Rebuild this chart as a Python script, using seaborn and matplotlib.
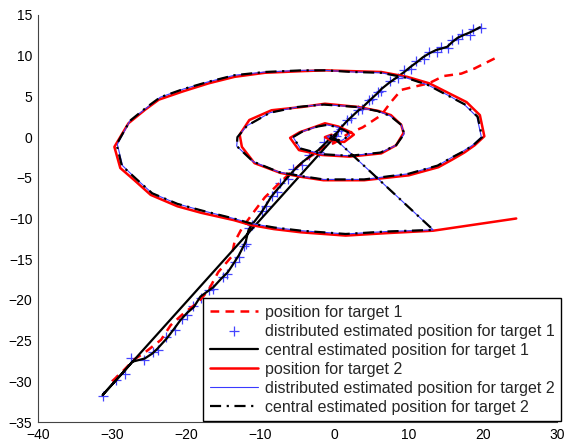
import matplotlib
matplotlib.use("Agg")
import matplotlib.pyplot as plt
import seaborn as sns

# target 1 - true position (red dashed)
t1_x = [-30.0, -28.5, -27.0, -25.5, -23.4, -22.1, -20.3, -18.4, -17.0, -15.7, -13.9, -13.5,
        -12.5, -10.9, -9.4, -7.5, -5.5, -3.6, -1.6, 0.0, 1.8, 3.8, 6.3, 7.6, 9.0, 10.8, 12.7,
        14.7, 17.1, 18.8, 21.9]
t1_y = [-30.0, -28.7, -27.3, -26.4, -24.9, -23.1, -21.6, -20.3, -18.8, -16.6, -14.7, -12.9,
        -11.2, -9.2, -7.4, -5.7, -4.0, -2.6, -1.3, -0.7, 0.4, 1.2, 2.7, 4.3, 5.8, 6.2, 6.6,
        7.5, 7.8, 8.4, 9.8]

# target 1 - central estimate (black solid), starts from the origin guess
c1_x = [0.3, -31.3, -29.6, -28.5, -27.3, -25.6, -24.6, -23.9, -22.6, -21.6, -20.8, -19.9,
        -19.0, -18.1, -17.2, -16.3, -15.3, -14.4, -13.6, -12.9, -12.4, -12.0, -11.6, -11.0,
        -9.9, -9.2, -8.6, -7.9, -7.2, -6.4, -5.5, -4.5, -3.4, -2.2, -1.3, -0.4, 0.4, 0.9,
        1.6, 2.3, 3.0, 3.8, 4.5, 5.2, 5.8, 6.3, 7.4, 8.5, 9.4, 10.2, 11.1, 11.9, 12.8, 13.7,
        14.5, 15.2, 15.9, 16.6, 17.3, 18.1, 18.8, 19.6]
c1_y = [0.3, -31.7, -30.0, -28.9, -27.6, -27.2, -26.6, -26.0, -24.7, -23.5, -22.5, -21.6,
        -20.9, -19.6, -19.0, -18.4, -17.4, -16.6, -15.5, -14.5, -13.6, -12.9, -11.4, -10.6,
        -9.3, -8.3, -7.4, -6.6, -5.9, -5.0, -4.1, -3.2, -2.4, -1.6, -0.8, 0.0, 0.6, 1.2,
        1.9, 2.5, 3.1, 3.7, 4.3, 4.9, 5.4, 5.9, 6.7, 7.4, 8.0, 8.6, 9.2, 9.8, 10.3, 10.7,
        10.9, 11.1, 11.7, 12.2, 12.5, 12.8, 13.1, 13.5]

# target 1 - distributed estimate (blue +)
d1_x = [0.2, -31.3, -29.5, -28.3, -27.5, -25.7, -24.5, -23.8, -22.7, -21.5, -20.6, -19.9,
        -19.1, -18.0, -17.0, -16.4, -15.1, -14.5, -13.4, -12.9, -12.2, -12.0, -11.5, -11.1,
        -9.8, -9.3, -8.5, -7.8, -7.3, -6.3, -5.6, -4.4, -3.5, -2.1, -1.4, -0.3, 0.5, 0.8,
        1.7, 2.2, 3.1, 3.7, 4.6, 5.1, 5.9, 6.2, 7.5, 8.6, 9.3, 10.3, 11.0, 12.0, 12.7, 13.8,
        14.4, 15.3, 15.8, 16.7, 17.2, 18.2, 18.7, 19.7]
d1_y = [0.1, -31.8, -29.8, -29.1, -27.1, -27.4, -26.4, -26.2, -24.5, -23.7, -22.3, -21.8,
        -20.7, -19.8, -18.8, -18.6, -17.2, -16.8, -15.3, -14.7, -13.4, -13.1, -11.2, -10.8,
        -9.1, -8.5, -7.2, -6.8, -5.7, -5.2, -3.9, -3.4, -2.2, -1.8, -0.6, -0.2, 0.8, 1.0,
        2.1, 2.3, 3.3, 3.5, 4.5, 4.7, 5.6, 5.7, 6.9, 7.2, 8.2, 8.4, 9.4, 9.6, 10.5, 10.5,
        11.1, 10.9, 11.9, 12.0, 12.7, 12.6, 13.3, 13.4]

# target 2 - true position (red solid spiral)
t2_x = [24.5, 13.3, 7.0, 1.5, -4.5, -8.2, -11.3, -13.6, -18.0, -21.2, -24.8, -27.0, -28.9,
        -29.7, -27.8, -25.5, -23.7, -20.5, -17.0, -13.5, -9.4, -4.4, -1.3, 2.5, 6.3, 9.8,
        12.8, 15.4, 17.8, 19.6, 20.2, 18.9, 17.5, 15.8, 14.0, 10.0, 4.0, -1.5, -4.4, -7.3,
        -10.8, -12.5, -12.8, -11.5, -8.5, -4.4, -1.3, 3.2, 6.0, 7.6, 9.0, 9.3, 8.3, 6.3, 2.0,
        -1.7, -4.8, -6.0, -4.7, -2.5, -1.3, 0.5, 2.2, 2.6, 1.3, -0.5, -1.3, -0.4]
t2_y = [-10.0, -11.5, -11.8, -12.1, -11.7, -11.3, -10.8, -10.2, -9.3, -8.5, -7.1, -5.3, -3.8,
        -1.2, 1.7, 3.4, 4.6, 5.6, 6.6, 7.4, 7.9, 8.1, 8.2, 8.1, 8.0, 7.4, 6.6, 5.4, 4.3, 2.7,
        0.1, -1.0, -1.9, -2.8, -3.7, -4.7, -5.3, -5.3, -4.9, -4.4, -3.2, -1.2, 0.3, 2.1, 3.3,
        3.7, 4.1, 3.7, 3.2, 2.7, 1.5, 0.5, -1.0, -2.0, -2.4, -2.2, -1.6, -0.1, 0.6, 1.3, 1.7,
        1.3, 0.6, 0.3, -0.6, -0.4, 0.0, 0.3]

# target 2 - distributed estimate (blue thin line)
d2_x = [-0.2, 13.3, 7.0, 1.5, -4.5, -8.2, -11.3, -13.6, -18.0, -21.2, -24.6, -26.8, -28.6,
        -29.3, -27.6, -25.2, -23.5, -20.4, -17.0, -13.5, -9.4, -4.4, -1.3, 2.5, 6.3, 9.6,
        12.6, 15.6, 17.5, 19.2, 19.8, 18.6, 17.2, 15.6, 13.9, 10.0, 4.0, -1.5, -4.4, -7.5,
        -11.0, -13.2, -13.1, -11.8, -8.7, -5.0, -1.5, 3.0, 5.8, 7.5, 9.0, 9.4, 8.3, 6.2,
        2.0, -1.7, -4.6, -5.6, -4.3, -2.3, -1.0, 0.5, 1.8, 2.0, 1.0, -0.4, -1.0, -0.3]
d2_y = [0.0, -11.4, -11.6, -11.9, -11.5, -11.1, -10.6, -10.0, -9.0, -8.2, -6.9, -5.1, -3.5,
        -0.9, 2.0, 3.7, 4.9, 5.9, 6.8, 7.6, 8.0, 8.2, 8.2, 8.0, 7.9, 7.3, 6.4, 5.0, 4.0, 2.5,
        0.0, -1.0, -1.8, -2.6, -3.5, -4.5, -5.2, -5.2, -4.8, -4.3, -3.0, -1.1, 0.0, 1.4, 3.0,
        3.7, 4.0, 3.7, 3.2, 2.6, 1.5, 0.4, -1.0, -1.9, -2.3, -2.1, -1.4, 0.0, 0.7, 1.3, 1.5,
        1.2, 0.6, 0.2, -0.4, -0.3, 0.1, 0.2]

# target 2 - central estimate (black dash-dot)
c2_x = [-0.2, 13.3, 7.0, 1.5, -4.5, -8.2, -11.3, -13.6, -18.0, -21.2, -24.6, -26.8, -28.7,
        -29.4, -27.6, -25.3, -23.5, -20.4, -17.0, -13.5, -9.4, -4.4, -1.3, 2.5, 6.3, 9.6,
        12.6, 15.5, 17.6, 19.3, 19.9, 18.7, 17.3, 15.6, 13.9, 10.0, 4.0, -1.5, -4.4, -7.5,
        -11.0, -13.2, -13.1, -11.8, -8.7, -5.0, -1.5, 3.0, 5.8, 7.5, 9.0, 9.4, 8.3, 6.2,
        2.0, -1.7, -4.6, -5.6, -4.3, -2.3, -1.0, 0.5, 1.8, 2.0, 1.0, -0.4, -1.0, -0.3]
c2_y = [0.0, -11.4, -11.6, -11.9, -11.5, -11.1, -10.6, -10.0, -9.0, -8.2, -6.9, -5.1, -3.5,
        -0.9, 2.0, 3.7, 4.9, 5.9, 6.8, 7.6, 8.0, 8.2, 8.2, 8.0, 7.9, 7.3, 6.4, 5.0, 4.0, 2.5,
        0.0, -1.0, -1.8, -2.6, -3.5, -4.5, -5.2, -5.2, -4.8, -4.3, -3.0, -1.1, 0.0, 1.4, 3.0,
        3.7, 4.0, 3.7, 3.2, 2.6, 1.5, 0.4, -1.0, -1.9, -2.3, -2.1, -1.4, 0.0, 0.7, 1.3, 1.5,
        1.2, 0.6, 0.2, -0.4, -0.3, 0.1, 0.2]

labels = ["position for target 1",
          "distributed estimated position for target 1",
          "central estimated position for target 1",
          "position for target 2",
          "distributed estimated position for target 2",
          "central estimated position for target 2"]

x_ticks = [-40, -30, -20, -10, 0, 10, 20, 30]
y_ticks = [-35, -30, -25, -20, -15, -10, -5, 0, 5, 10, 15]

sns.set_style("white")
plt.rcParams['font.family'] = ['Liberation Sans', 'DejaVu Sans']

fig = plt.figure(figsize=(5.64, 4.47), dpi=100)
ax = fig.add_axes([38 / 564, 1 - 422 / 447, (557 - 38) / 564, (422 - 15) / 447])

sns.lineplot(x=t1_x, y=t1_y, sort=False, estimator=None, ax=ax, color='red',
             linestyle=(0, (3.5, 2.5)), lw=1.8, label=labels[0])
sns.scatterplot(x=d1_x, y=d1_y, ax=ax, marker='+', color='#4444ff', s=45,
                linewidth=0.9, label=labels[1])
sns.lineplot(x=c1_x, y=c1_y, sort=False, estimator=None, ax=ax, color='black',
             lw=1.6, label=labels[2])
sns.lineplot(x=t2_x, y=t2_y, sort=False, estimator=None, ax=ax, color='red',
             lw=1.8, label=labels[3])
sns.lineplot(x=d2_x, y=d2_y, sort=False, estimator=None, ax=ax, color='#3a3aff',
             lw=0.8, label=labels[4])
sns.lineplot(x=c2_x, y=c2_y, sort=False, estimator=None, ax=ax, color='black',
             linestyle=(0, (5, 2.5, 1, 2.5)), lw=1.6, label=labels[5])

ax.set_xlim(-40, 30)
ax.set_ylim(-35, 15)
ax.set_xticks(x_ticks)
ax.set_yticks(y_ticks)
ax.set_xticklabels([str(v).replace('-', '\u2212') for v in x_ticks])
ax.set_yticklabels([str(v).replace('-', '\u2212') for v in y_ticks])
ax.tick_params(direction='in', length=4, width=0.6, labelsize=10, colors='black', pad=4)
for s in ['top', 'right']:
    ax.spines[s].set_visible(False)
for s in ['left', 'bottom']:
    ax.spines[s].set_color('#444444')
    ax.spines[s].set_linewidth(0.8)

handles, labs = ax.get_legend_handles_labels()
leg = ax.legend(handles, labs, loc='lower right',
                bbox_to_anchor=(561 / 564, 1 - 421 / 447), bbox_transform=fig.transFigure,
                borderaxespad=0, fontsize=11.5, frameon=True, fancybox=False,
                framealpha=1, edgecolor='black', handlelength=3.0, handletextpad=0.45,
                labelspacing=0.25, borderpad=0.4, scatterpoints=1)
leg.get_frame().set_linewidth(1.0)

fig.savefig("out.png", dpi=100)
